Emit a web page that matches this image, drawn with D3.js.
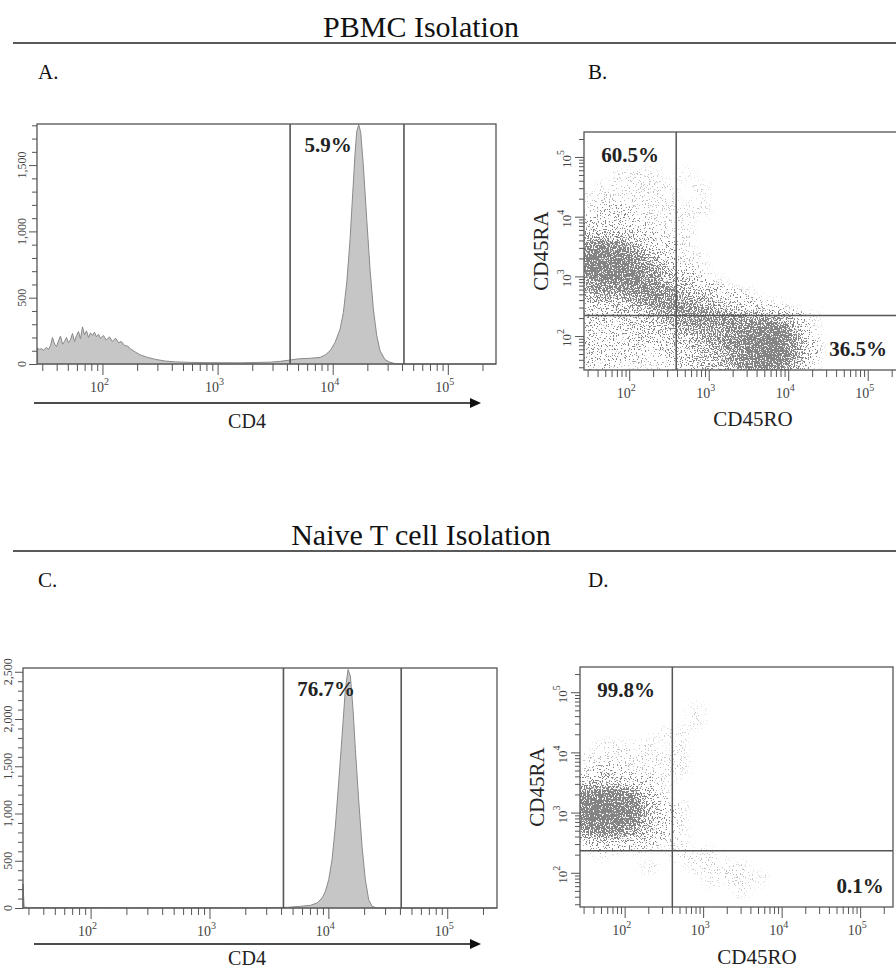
<!DOCTYPE html>
<html>
<head>
<meta charset="utf-8">
<script src="https://cdn.jsdelivr.net/npm/d3@7"></script>
<style>
  body { margin: 0; background: #fff; }
  text { font-family: "Liberation Serif", "Times New Roman", serif; }
</style>
</head>
<body>
<div class="canvas"></div>
<script>
// ---------- data ----------
// A. PBMC, CD4 histogram (intensity, event count)
const cd4A = [27.3, 28.4, 29.6, 30.8, 32.7, 34.0, 35.4, 36.8, 38.4, 39.9, 41.5, 43.2, 45.0, 46.8, 48.7,
  50.7, 52.8, 54.9, 57.2, 59.5, 61.9, 64.4, 67.1, 69.8, 72.7, 75.6, 78.7, 81.9, 85.2, 88.7, 92.3, 96.1,
  102, 108, 115, 122, 130, 138, 146, 155, 165, 175, 193, 214, 246, 288, 352, 430, 580, 865, 1574, 2865,
  3500, 4266, 5212, 6368, 7780, 8596, 9497, 10494, 11594, 12385, 13253, 14156, 14935, 15638, 16181,
  16837, 17524, 18464, 19763, 21103, 22543, 24134, 25779, 28474, 31449, 34737, 38429, 262144]
const countA = [120, 110, 115, 105, 125, 110, 140, 200, 150, 130, 175, 210, 150, 170, 200,
  160, 185, 230, 170, 215, 245, 190, 280, 220, 250, 200, 235, 215, 240, 205, 225, 195,
  215, 180, 205, 170, 195, 160, 170, 140, 135, 115, 90, 68, 50, 35, 22, 16, 12, 10, 9, 14,
  20, 30, 40, 43, 50, 68, 100, 163, 263, 389, 615, 940, 1290, 1590, 1755,
  1805, 1745, 1495, 1090, 715, 415, 213, 100, 33, 13, 3, 0, 0]

// C. Naive T cells, CD4 histogram
const cd4C = [27, 27.6, 30, 50, 100, 200, 500, 1000, 2000, 4519, 5818, 7063, 8038, 8855, 9441, 10069,
  10746, 11448, 12210, 13032, 13897, 14649, 15318, 16130, 16876, 17985, 19191, 20469, 21837, 23303,
  25652, 262144]
const countC = [255, 10, 4, 3, 4, 3, 2, 3, 2, 7, 18, 28, 53, 106, 176, 300,
  512, 865, 1324, 1818, 2312, 2524, 2454, 2100, 1677, 1147, 653, 300, 88, 18,
  0, 0]

const histMaxA = 1810
const histMaxC = 2540
const histLabelsA = [0, 500, 1000, 1500]
const histLabelsC = [0, 500, 1000, 1500, 2000, 2500]
const gateA = [4266, 41600]
const gateC = [4190, 41000]
const decades = [100, 1000, 10000, 100000]
const axisRange = [27, 262144]

// B / D. CD45RO (x) vs CD45RA (y) event density, 0..9 per cell
// columns: log10 lower edges below, width 0.2 decade; rows run top (5.2-5.4) to bottom (1.4-1.6)
const logBins = [1.4, 1.6, 1.8, 2.0, 2.2, 2.4, 2.6, 2.8, 3.0, 3.2, 3.4, 3.6, 3.8, 4.0, 4.2, 4.4, 4.6, 4.8, 5.0, 5.2]
const densityB = [
  "00000000000000000000",
  "00000000000000000000",
  "00000000000000000000",
  "00111010000000000000",
  "01111101000000000000",
  "11111101000000000000",
  "12211111000000000000",
  "22221110000000000000",
  "44432110000000000000",
  "88753210000000000000",
  "99975311000000000000",
  "99986421000000000000",
  "78887542100000000000",
  "56677754321000000000",
  "33456776543210000000",
  "33334677776653100000",
  "22233456678995100000",
  "22222345678996200000",
  "22221234568996200000",
  "22111234568985100000"
]
const densityD = [
  "00000000000000000000",
  "00000000000000000000",
  "00000000000000000000",
  "00000001000000000000",
  "00000001000000000000",
  "00000110000000000000",
  "01111010000000000000",
  "11111110000000000000",
  "12211110000000000000",
  "44432100000000000000",
  "89873100000000000000",
  "99995210000000000000",
  "99985210000000000000",
  "78864210000000000000",
  "23332110000000000000",
  "01000011100000000000",
  "00001001111000000000",
  "00000000111100000000",
  "00000000001000000000",
  "00000000000000000000"
]
const quadB = [390, 220]
const quadD = [405, 232]

const pctA = "5.9%", pctC = "76.7%"
const pctB = ["60.5%", "36.5%"], pctD = ["99.8%", "0.1%"]

// ---------- drawing ----------
const svg = d3.select('.canvas')
  .append('svg')
  .attr('width', 896)
  .attr('height', 972)

const defs = svg.append('defs')

// grain filter: blurred density dithered into dots
const filt = defs.append('filter').attr('id', 'speckle')
  .attr('x', 0).attr('y', 0).attr('width', 1).attr('height', 1)
  .attr('filterUnits', 'objectBoundingBox')
filt.append('feGaussianBlur').attr('in', 'SourceAlpha').attr('stdDeviation', '5 4').attr('result', 'b')
filt.append('feTurbulence').attr('type', 'fractalNoise').attr('baseFrequency', 0.75)
  .attr('numOctaves', 2).attr('seed', 3).attr('result', 'n')
filt.append('feColorMatrix').attr('in', 'n').attr('type', 'matrix')
  .attr('values', '0 0 0 0 0  0 0 0 0 0  0 0 0 0 0  3 0 0 0 -1').attr('result', 'na')
filt.append('feComposite').attr('in', 'b').attr('in2', 'na').attr('operator', 'arithmetic')
  .attr('k1', 0).attr('k2', 9).attr('k3', -9).attr('k4', 0).attr('result', 'm')
filt.append('feFlood').attr('flood-color', '#848484').attr('result', 'f')
filt.append('feComposite').attr('in', 'f').attr('in2', 'm').attr('operator', 'in')

// section titles
function section(title, y, left, right) {
  svg.append('text').attr('x', 421).attr('y', y).attr('text-anchor', 'middle')
    .attr('font-size', 30).attr('fill', '#111').text(title)
  svg.append('line').attr('x1', 13).attr('x2', 896).attr('y1', y + 6).attr('y2', y + 6)
    .attr('stroke', '#222').attr('stroke-width', 1.5)
  svg.append('text').attr('x', 38).attr('y', y + 42).attr('font-size', 21).attr('fill', '#111').text(left)
  svg.append('text').attr('x', 588).attr('y', y + 42).attr('font-size', 21).attr('fill', '#111').text(right)
}
section('PBMC Isolation', 37, 'A.', 'B.')
section('Naive T cell Isolation', 545, 'C.', 'D.')

function decadeLabel(sel) {
  sel.text('10').append('tspan').attr('dy', -7).attr('font-size', 10).text(d => Math.round(Math.log10(d)))
}

function logBottomAxis(g, x, y0) {
  g.append('g').attr('transform', `translate(0,${y0})`)
    .call(d3.axisBottom(x).tickValues(x.ticks().filter(t => !decades.includes(t)))
      .tickSize(7).tickFormat(''))
    .call(a => a.select('.domain').remove())
  g.append('g').attr('transform', `translate(0,${y0})`)
    .call(d3.axisBottom(x).tickValues(decades).tickSize(11).tickFormat(''))
    .call(a => a.select('.domain').remove())
  g.selectAll('.tick line').attr('stroke', '#555')
  g.selectAll('.declab').data(decades).join('text')
    .attr('class', 'declab')
    .attr('x', d => x(d) - 3).attr('y', y0 + 28)
    .attr('text-anchor', 'middle').attr('font-size', 14).attr('fill', '#444')
    .call(decadeLabel)
}

function histogram(cfg) {
  const g = svg.append('g')
  const x = d3.scaleLog().domain(axisRange).range([cfg.x0, cfg.x1])
  const y = d3.scaleLinear().domain([0, cfg.max]).range([cfg.y1, cfg.y0])
  const pts = cfg.xs.map((v, i) => [v, cfg.ys[i]])

  g.append('path').datum(pts)
    .attr('d', d3.area().x(d => x(d[0])).y0(y(0)).y1(d => y(d[1])))
    .attr('fill', '#c6c6c6').attr('stroke', '#8a8a8a').attr('stroke-width', 1)

  g.append('rect').attr('x', cfg.x0).attr('y', cfg.y0)
    .attr('width', cfg.x1 - cfg.x0).attr('height', cfg.y1 - cfg.y0)
    .attr('fill', 'none').attr('stroke', '#555').attr('stroke-width', 1.3)

  g.selectAll('.gate').data(cfg.gate).join('line')
    .attr('x1', d => x(d)).attr('x2', d => x(d))
    .attr('y1', cfg.y0).attr('y2', cfg.y1)
    .attr('stroke', '#555').attr('stroke-width', 1.6)

  logBottomAxis(g, x, cfg.y1)

  // y axis, counts
  const yg = g.append('g').attr('transform', `translate(${cfg.x0},0)`)
  yg.call(d3.axisLeft(y).tickValues(d3.range(0, cfg.max, 100).filter(t => t % 500 !== 0)).tickSize(5).tickFormat(''))
    .call(a => a.select('.domain').remove())
  yg.append('g').call(d3.axisLeft(y).tickValues(cfg.labels).tickSize(8).tickFormat(''))
    .call(a => a.select('.domain').remove())
  yg.selectAll('.tick line').attr('stroke', '#555')
  yg.selectAll('.ylab').data(cfg.labels).join('text')
    .attr('class', 'ylab')
    .attr('transform', d => `translate(${-11},${y(d)}) rotate(-90)`)
    .attr('text-anchor', 'middle').attr('font-size', 12).attr('fill', '#444')
    .text(d => d3.format(',')(d))

  // arrow + label
  g.append('line').attr('x1', 34).attr('x2', 470).attr('y1', cfg.arrowY).attr('y2', cfg.arrowY)
    .attr('stroke', '#111').attr('stroke-width', 1.6)
  g.append('path').attr('d', `M470,${cfg.arrowY - 5}L481,${cfg.arrowY}L470,${cfg.arrowY + 5}Z`).attr('fill', '#111')
  g.append('text').attr('x', 247).attr('y', cfg.arrowY + cfg.labDy).attr('text-anchor', 'middle')
    .attr('font-size', 20).attr('fill', '#222').text('CD4')

  g.append('text').attr('x', cfg.pctX).attr('y', cfg.y0 + 28).attr('text-anchor', 'middle')
    .attr('font-size', 21).attr('font-weight', 'bold').attr('fill', '#222').text(cfg.pct)
}

histogram({ x0: 37, x1: 496, y0: 124, y1: 364, max: histMaxA, xs: cd4A, ys: countA,
  labels: histLabelsA, gate: gateA, arrowY: 403, labDy: 25, pct: pctA, pctX: 328 })
histogram({ x0: 23, x1: 497, y0: 668, y1: 908, max: histMaxC, xs: cd4C, ys: countC,
  labels: histLabelsC, gate: gateC, arrowY: 944, labDy: 21, pct: pctC, pctX: 326 })

function scatter(cfg) {
  const g = svg.append('g')
  const x = d3.scaleLog().domain(axisRange).range([cfg.x0, cfg.x1])
  const y = d3.scaleLog().domain(axisRange).range([cfg.y1, cfg.y0])
  const id = 'clip' + cfg.key

  defs.append('clipPath').attr('id', id).append('rect')
    .attr('x', cfg.x0).attr('y', cfg.y0).attr('width', cfg.x1 - cfg.x0).attr('height', cfg.y1 - cfg.y0)

  const cells = []
  cfg.density.forEach((row, r) => {
    row.split('').forEach((c, ci) => {
      if (+c > 0) cells.push({ xl: logBins[ci], yl: logBins[logBins.length - 1 - r], d: +c })
    })
  })

  const dots = g.append('g').attr('clip-path', `url(#${id})`)
    .append('g').attr('filter', 'url(#speckle)')
  dots.append('rect').attr('x', cfg.x0).attr('y', cfg.y0)
    .attr('width', cfg.x1 - cfg.x0).attr('height', cfg.y1 - cfg.y0).attr('fill', 'none')
  dots.selectAll('rect.cell').data(cells).join('rect')
    .attr('class', 'cell')
    .attr('x', d => x(10 ** d.xl)).attr('width', d => x(10 ** (d.xl + 0.2)) - x(10 ** d.xl))
    .attr('y', d => y(10 ** (d.yl + 0.2))).attr('height', d => y(10 ** d.yl) - y(10 ** (d.yl + 0.2)))
    .attr('fill', '#000').attr('fill-opacity', d => Math.pow(d.d / 9, 1.3))

  g.append('rect').attr('x', cfg.x0).attr('y', cfg.y0)
    .attr('width', cfg.x1 - cfg.x0).attr('height', cfg.y1 - cfg.y0)
    .attr('fill', 'none').attr('stroke', '#555').attr('stroke-width', 1.3)

  g.append('line').attr('x1', x(cfg.quad[0])).attr('x2', x(cfg.quad[0]))
    .attr('y1', cfg.y0).attr('y2', cfg.y1).attr('stroke', '#555').attr('stroke-width', 1.5)
  g.append('line').attr('x1', cfg.x0).attr('x2', cfg.x1)
    .attr('y1', y(cfg.quad[1])).attr('y2', y(cfg.quad[1])).attr('stroke', '#555').attr('stroke-width', 1.5)

  logBottomAxis(g, x, cfg.y1)

  const yg = g.append('g').attr('transform', `translate(${cfg.x0},0)`)
  yg.call(d3.axisLeft(y).tickValues(y.ticks().filter(t => !decades.includes(t))).tickSize(5).tickFormat(''))
    .call(a => a.select('.domain').remove())
  yg.append('g').call(d3.axisLeft(y).tickValues(decades).tickSize(9).tickFormat(''))
    .call(a => a.select('.domain').remove())
  yg.selectAll('.tick line').attr('stroke', '#555')
  yg.selectAll('.ylab').data(decades).join('text')
    .attr('class', 'ylab')
    .attr('transform', d => `translate(${-13},${y(d) + 2}) rotate(-90)`)
    .attr('text-anchor', 'middle').attr('font-size', 13).attr('fill', '#444')
    .call(decadeLabel)

  g.append('text').attr('transform', `translate(${cfg.x0 - 36},${(cfg.y0 + cfg.y1) / 2}) rotate(-90)`)
    .attr('text-anchor', 'middle').attr('font-size', 21).attr('fill', '#222').text('CD45RA')
  g.append('text').attr('x', cfg.labX).attr('y', cfg.y1 + cfg.labDy).attr('text-anchor', 'middle')
    .attr('font-size', 21).attr('fill', '#222').text('CD45RO')

  g.append('text').attr('x', cfg.x0 + 46).attr('y', cfg.y0 + 30).attr('text-anchor', 'middle')
    .attr('font-size', 21).attr('font-weight', 'bold').attr('fill', '#222').text(cfg.pct[0])
  g.append('text').attr('x', cfg.pctRX).attr('y', cfg.y1 - 14).attr('text-anchor', 'middle')
    .attr('font-size', 21).attr('font-weight', 'bold').attr('fill', '#222').text(cfg.pct[1])
}

scatter({ key: 'B', x0: 584, x1: 901, y0: 132, y1: 370, density: densityB, quad: quadB,
  pct: pctB, pctRX: 858, labX: 753, labDy: 56 })
scatter({ key: 'D', x0: 580, x1: 893, y0: 667, y1: 907, density: densityD, quad: quadD,
  pct: pctD, pctRX: 860, labX: 757, labDy: 57 })
</script>
</body>
</html>
